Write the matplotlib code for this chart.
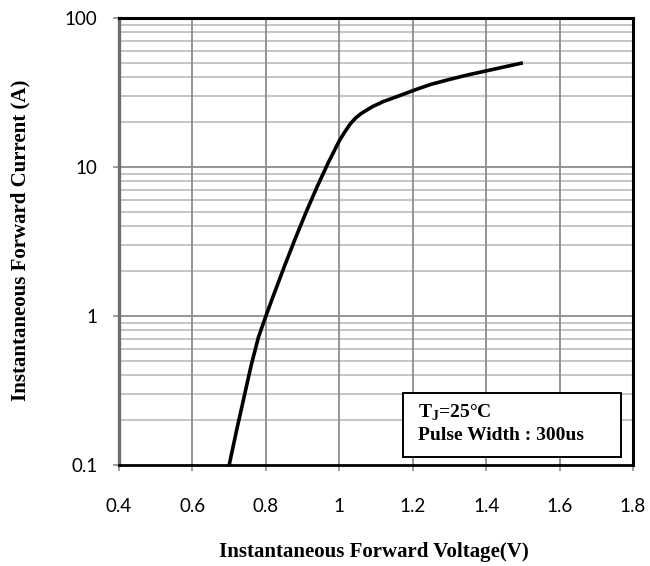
import numpy as np
import matplotlib
matplotlib.use("Agg")
import matplotlib.pyplot as plt
from matplotlib.patches import Rectangle
from matplotlib.ticker import FixedLocator, NullFormatter, NullLocator

plt.rcParams['mathtext.fontset'] = 'custom'
plt.rcParams['mathtext.rm'] = 'Liberation Serif:bold'
plt.rcParams['mathtext.bf'] = 'Liberation Serif:bold'

# forward voltage (V) vs forward current (A)
voltage = [0.70, 0.72, 0.74, 0.76, 0.78, 0.80, 0.82, 0.85, 0.88, 0.91,
           0.94, 0.97, 1.00, 1.015, 1.03, 1.045, 1.06, 1.09, 1.12, 1.17,
           1.21, 1.25, 1.30, 1.35, 1.45, 1.50]
current = [0.100, 0.170, 0.282, 0.468, 0.724, 1.00, 1.36, 2.14, 3.31, 5.01,
           7.41, 10.7, 15.0, 17.2, 19.5, 21.4, 22.9, 25.4, 27.5, 30.5,
           33.2, 35.9, 38.7, 41.5, 47.0, 50.0]

x_ticks = [0.4, 0.6, 0.8, 1.0, 1.2, 1.4, 1.6, 1.8]
x_labels = ["0.4", "0.6", "0.8", "1", "1.2", "1.4", "1.6", "1.8"]
y_ticks = [0.1, 1, 10, 100]
y_labels = ["0.1", "1", "10", "100"]

serif = "Liberation Serif"
sans = "Lato"

fig = plt.figure(figsize=(6.5, 5.66), dpi=100)
ax = fig.add_axes([0.1831, 0.1784, 0.7908, 0.7898])

ax.set_yscale("log")
ax.set_xlim(0.4, 1.8)
ax.set_ylim(0.1, 100)

# grid: decade lines darker, minor lines lighter
minor = [m * 10.0 ** e for e in range(-1, 2) for m in range(2, 10)]
for v in minor:
    ax.axhline(v, color="#c0c0c0", lw=1.3, zorder=1)
for v in y_ticks[1:-1]:
    ax.axhline(v, color="#8c8c8c", lw=1.3, zorder=1)
for v in x_ticks[1:-1]:
    ax.axvline(v, color="#8c8c8c", lw=1.3, zorder=1)

ax.plot(voltage, current, color="black", lw=2.6, zorder=3,
        solid_capstyle="butt", solid_joinstyle="round")

ax.xaxis.set_major_locator(FixedLocator(x_ticks))
ax.set_xticklabels(x_labels)
ax.yaxis.set_major_locator(FixedLocator(y_ticks))
ax.yaxis.set_minor_locator(NullLocator())
ax.yaxis.set_minor_formatter(NullFormatter())
ax.set_yticklabels(y_labels)

ax.tick_params(axis="both", which="major", direction="out", length=4.5,
               width=1.2, color="#8c8c8c", labelsize=13.5)
ax.tick_params(axis="x", pad=19)
ax.tick_params(axis="y", pad=11)
for lab in ax.get_xticklabels() + ax.get_yticklabels():
    lab.set_family(sans)

ax.spines["top"].set_linewidth(2.2)
ax.spines["right"].set_linewidth(2.2)
ax.spines["bottom"].set_linewidth(2.0)
ax.spines["left"].set_linewidth(2.4)
ax.spines["left"].set_color("#6e6e6e")
for s in ax.spines.values():
    s.set_zorder(4)

# annotation box
ax.add_patch(Rectangle((0.5525, 0.018), 0.4242, 0.143, transform=ax.transAxes,
                       facecolor="white", edgecolor="black", lw=1.4, zorder=5))
ax.text(0.5817, 0.1163, r"T$_{\mathbf{J}}$=25°C", transform=ax.transAxes,
        family=serif, weight="bold", fontsize=14, va="center", ha="left", zorder=6)
ax.text(0.5817, 0.0671, "Pulse Width : 300us", transform=ax.transAxes,
        family=serif, weight="bold", fontsize=14, va="center", ha="left", zorder=6)

fig.text(0.5746, 1 - 552 / 566, "Instantaneous Forward Voltage(V)", family=serif,
         weight="bold", fontsize=15, ha="center", va="center")
fig.text(20 / 650, 1 - 240 / 566, "Instantaneous Forward Current (A)", family=serif,
         weight="bold", fontsize=15, ha="center", va="center", rotation=90)

fig.savefig("out.png", dpi=100)
